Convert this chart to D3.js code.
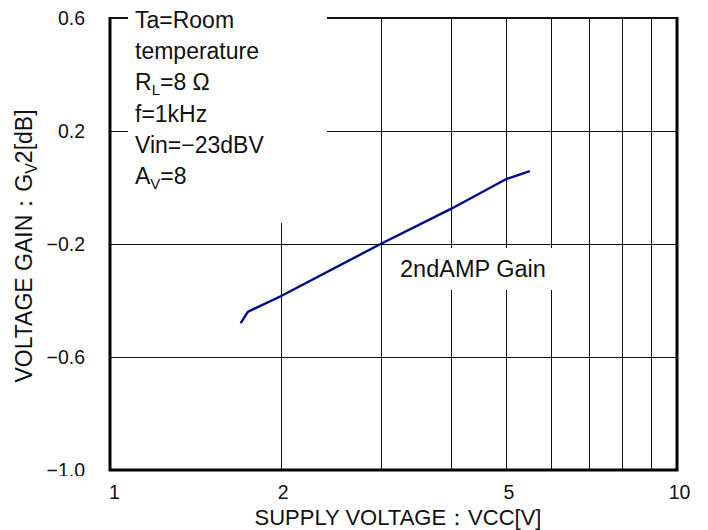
<!DOCTYPE html>
<html>
<head>
<meta charset="utf-8">
<script src="https://cdn.jsdelivr.net/npm/d3@7"></script>
<style>
  html, body { margin: 0; padding: 0; background: #fff; }
  svg { display: block; font-family: "Liberation Sans", Arial, sans-serif; }
</style>
</head>
<body>
<svg id="chart" width="708" height="530"></svg>
<script>
// Supply voltage (V) and 2nd amplifier gain (dB)
const supplyVoltage = [1.7, 1.75, 2, 3, 4, 5, 5.5];
const gainDb = [-0.48, -0.44, -0.385, -0.2, -0.075, 0.03, 0.058];

const xTickValues = [1, 2, 5, 10];
const xGridValues = [2, 3, 4, 5, 6, 7, 8, 9];
const yTickValues = [0.6, 0.2, -0.2, -0.6, -1.0];
const yGridValues = [0.2, -0.2, -0.6];

const conditionLines = [
  [{ t: "Ta=Room" }],
  [{ t: "temperature" }],
  [{ t: "R" }, { t: "L", sub: true }, { t: "=8 Ω" }],
  [{ t: "f=1kHz" }],
  [{ t: "Vin=−23dBV" }],
  [{ t: "A" }, { t: "V", sub: true }, { t: "=8" }]
];
const seriesLabel = "2ndAMP Gain";
const xTitle = "SUPPLY VOLTAGE：VCC[V]";
const yTitleParts = [{ t: "VOLTAGE GAIN：G" }, { t: "V", sub: true }, { t: "2[dB]" }];

const svg = d3.select("#chart");
const plotLeft = 110, plotRight = 677, plotTop = 18, plotBottom = 470;

const x = d3.scaleLog().domain([1, 10]).range([plotLeft, plotRight]);
const y = d3.scaleLinear().domain([-1.0, 0.6]).range([plotBottom, plotTop]);

// grid
const grid = svg.append("g").attr("stroke", "#111").attr("stroke-width", 1);
grid.selectAll("line.v").data(xGridValues).join("line")
  .attr("class", "v")
  .attr("x1", d => Math.round(x(d)) + 0.5).attr("x2", d => Math.round(x(d)) + 0.5)
  .attr("y1", plotTop).attr("y2", plotBottom);
grid.selectAll("line.h").data(yGridValues).join("line")
  .attr("class", "h")
  .attr("x1", plotLeft).attr("x2", plotRight)
  .attr("y1", d => Math.round(y(d)) + 0.5).attr("y2", d => Math.round(y(d)) + 0.5);

// top border
svg.append("line").attr("x1", plotLeft).attr("x2", plotRight).attr("y1", plotTop).attr("y2", plotTop)
  .attr("stroke", "#111").attr("stroke-width", 2);

// series
const line = d3.line().x((d, i) => x(supplyVoltage[i])).y(d => y(d));
svg.append("path").datum(gainDb)
  .attr("d", line)
  .attr("fill", "none")
  .attr("stroke", "#000a8c")
  .attr("stroke-width", 2.4)
  .attr("stroke-linejoin", "round");

// label backgrounds
svg.append("rect").attr("x", 128).attr("y", 8).attr("width", 199).attr("height", 215).attr("fill", "#fff");
svg.append("rect").attr("x", 388).attr("y", 248).attr("width", 196).attr("height", 42).attr("fill", "#fff");

// conditions block
const cond = svg.append("text").attr("font-size", 23).attr("fill", "#111");
conditionLines.forEach((parts, i) => {
  const lineY = 28 + i * 31.2;
  parts.forEach((p, j) => {
    const ts = cond.append("tspan").text(p.t);
    if (j === 0) ts.attr("x", 135).attr("y", lineY);
    if (p.sub) ts.attr("font-size", 15).attr("dy", 5);
    else if (j > 0 && parts[j - 1].sub) ts.attr("dy", -5);
  });
});

svg.append("text").attr("x", 400).attr("y", 277).attr("font-size", 23.5).attr("fill", "#111")
  .text(seriesLabel);

// frame (left, bottom, right)
svg.append("path")
  .attr("d", `M${plotLeft},${plotTop - 1}V${plotBottom}H${plotRight}V${plotTop - 1}`)
  .attr("fill", "none").attr("stroke", "#000").attr("stroke-width", 3);

// axes
const fmtY = v => (v < 0 ? "−" : "") + Math.abs(v).toFixed(1);
svg.append("clipPath").attr("id", "yclip")
  .append("rect").attr("x", 0).attr("y", 0).attr("width", plotLeft).attr("height", 476);

const yAxis = svg.append("g")
  .attr("clip-path", "url(#yclip)")
  .append("g")
  .attr("transform", `translate(${plotLeft},0)`)
  .call(d3.axisLeft(y).tickValues(yTickValues).tickFormat(fmtY).tickSize(0).tickPadding(25));
yAxis.select(".domain").remove();
yAxis.selectAll("text").attr("font-size", 19.5).attr("fill", "#111")
  .attr("font-family", "\"Liberation Sans\", Arial, sans-serif");

const xAxis = svg.append("g")
  .attr("transform", `translate(0,${plotBottom})`)
  .call(d3.axisBottom(x).tickValues(xTickValues).tickFormat(d3.format("d")).tickSize(0).tickPadding(15));
xAxis.select(".domain").remove();
xAxis.selectAll("text").attr("font-size", 19.5).attr("fill", "#111")
  .attr("font-family", "\"Liberation Sans\", Arial, sans-serif")
  .attr("dx", d => d === 1 ? 4 : 2);

// axis titles
svg.append("text").attr("x", 398).attr("y", 525).attr("text-anchor", "middle")
  .attr("font-size", 22).attr("fill", "#111").text(xTitle);

const yt = svg.append("text")
  .attr("transform", "translate(32,246) rotate(-90)")
  .attr("text-anchor", "middle").attr("font-size", 23).attr("fill", "#111");
yTitleParts.forEach((p, j) => {
  const ts = yt.append("tspan").text(p.t);
  if (p.sub) ts.attr("font-size", 16).attr("dy", 5);
  else if (j > 0 && yTitleParts[j - 1].sub) ts.attr("dy", -5);
});
</script>
</body>
</html>
